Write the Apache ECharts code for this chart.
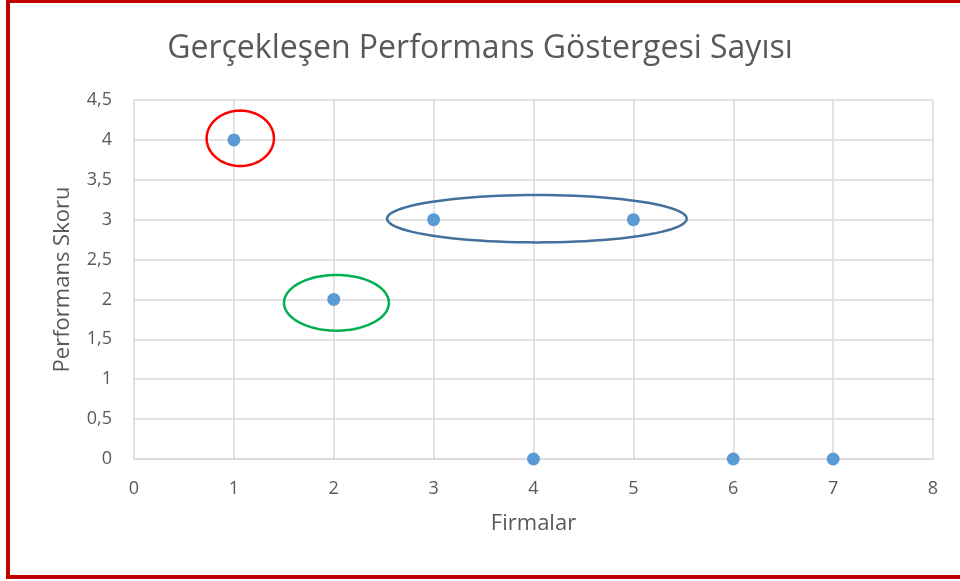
<!DOCTYPE html>
<html>
<head>
<meta charset="utf-8">
<script src="https://cdn.jsdelivr.net/npm/echarts@6/dist/echarts.min.js"></script>
<style>
  html, body { margin: 0; padding: 0; overflow: hidden; background: #fff; }
  #chart { position: absolute; left: 0; top: 0; width: 960px; height: 581px; }
  #frame {
    position: absolute; left: 6px; top: 0; width: 1000px; height: 579px;
    box-sizing: border-box; border: 4px solid #c00000; border-top-width: 3px; border-right: none;
    pointer-events: none;
  }
</style>
</head>
<body>
<div id="chart"></div>
<div id="frame"></div>
<script>
// firma numaraları ve skorları
var firmalar = [1, 2, 3, 4, 5, 6, 7];
var skorlar = [4, 2, 3, 0, 3, 0, 0];

// vurgu elipsleri: merkez x, merkez y, yarıçap x, yarıçap y (veri birimi)
var elipsler = [
  [1.064, 4.02, 0.337, 0.347],
  [2.027, 1.958, 0.525, 0.349],
  [4.034, 3.012, 1.5, 0.297]
];
var elipsRenkleri = ["#ff0000", "#00b050", "#41719c"];

var chart = echarts.init(document.getElementById("chart"));

var yazi = "#595959";
var font = "'Open Sans', 'Noto Sans', sans-serif";

var option = {
  title: {
    text: "Gerçekleşen Performans Göstergesi Sayısı",
    left: "center",
    top: 28,
    textStyle: { fontFamily: font, fontSize: 32, fontWeight: "normal", color: yazi }
  },
  grid: { left: 134, right: 27, top: 100, bottom: 122 },
  xAxis: {
    type: "value",
    min: 0,
    max: 8,
    interval: 1,
    name: "Firmalar",
    nameLocation: "middle",
    nameGap: 54,
    nameTextStyle: { fontFamily: font, fontSize: 22, color: yazi },
    axisLine: { show: true, lineStyle: { color: "#d9d9d9", width: 1.5 } },
    axisTick: { show: false },
    axisLabel: { margin: 21, fontFamily: font, fontSize: 18, color: yazi },
    splitLine: { show: true, lineStyle: { color: "#d9d9d9", width: 1.5 } }
  },
  yAxis: {
    type: "value",
    min: 0,
    max: 4.5,
    interval: 0.5,
    name: "Performans Skoru",
    nameLocation: "middle",
    nameGap: 60,
    nameTextStyle: { fontFamily: font, fontSize: 22, color: yazi },
    axisLine: { show: false },
    axisTick: { show: false },
    axisLabel: {
      margin: 22,
      fontFamily: font,
      fontSize: 18,
      color: yazi,
      formatter: function (v) { return String(v).replace(".", ","); }
    },
    splitLine: { show: true, lineStyle: { color: "#d9d9d9", width: 1.5 } }
  },
  series: [
    {
      type: "scatter",
      symbol: "circle",
      symbolSize: 13,
      itemStyle: { color: "#5b9bd5", opacity: 1 },
      data: firmalar.map(function (f, i) { return [f, skorlar[i]]; }),
      z: 3
    },
    {
      type: "custom",
      clip: false,
      silent: true,
      z: 4,
      data: elipsler,
      renderItem: function (params, api) {
        var merkez = api.coord([api.value(0), api.value(1)]);
        var boyut = api.size([api.value(2), api.value(3)]);
        var noktalar = [];
        for (var k = 0; k < 96; k++) {
          var a = (k / 96) * Math.PI * 2;
          noktalar.push([merkez[0] + boyut[0] * Math.cos(a), merkez[1] + boyut[1] * Math.sin(a)]);
        }
        return {
          type: "polygon",
          shape: { points: noktalar },
          style: { fill: "none", stroke: elipsRenkleri[params.dataIndex], lineWidth: 2.5 }
        };
      }
    }
  ]
};

chart.setOption(option);
window.onresize = chart.resize;
</script>
</body>
</html>
